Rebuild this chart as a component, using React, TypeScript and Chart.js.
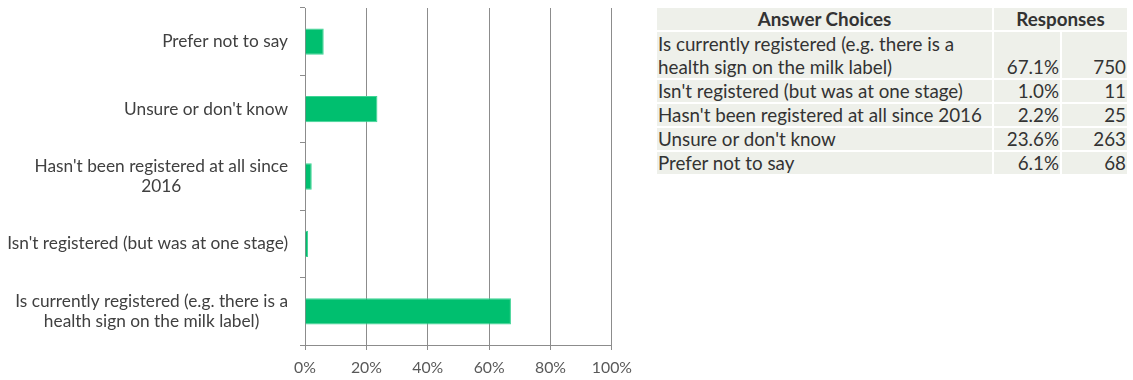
import React, { useEffect, useRef } from "react";
import { Chart, registerables } from "chart.js";

Chart.register(...registerables);

const categories: (string | string[])[] = [
  ["Is currently registered (e.g. there is a", "health sign on the milk label)"],
  "Isn't registered (but was at one stage)",
  ["Hasn't been registered at all since", "2016"],
  "Unsure or don't know",
  "Prefer not to say",
];
const tableChoices: string[][] = [
  ["Is currently registered (e.g. there is a", "health sign on the milk label)"],
  ["Isn't registered (but was at one stage)"],
  ["Hasn't been registered at all since 2016"],
  ["Unsure or don't know"],
  ["Prefer not to say"],
];
const percentValues: number[] = [67.1, 1.0, 2.2, 23.6, 6.1];
const responseCounts: number[] = [750, 11, 25, 263, 68];
const xTicks: number[] = [0, 20, 40, 60, 80, 100];

const FONT = "Lato, 'Open Sans', sans-serif";
const GREEN = "#00BF6F";
const GRID = "#8C8C8C";
const Y_FONT_SIZE = 17.3;
const Y_LINE_H = 20.5;
const Y_TICK_LEN = 5;
const Y_PAD = 12;

const yLabelPlugin = {
  id: "centeredYLabels",
  afterDraw(chart: any) {
    const scale = chart.scales.y;
    const c = chart.ctx;
    c.save();
    c.font = `${Y_FONT_SIZE}px ${FONT}`;
    c.fillStyle = "#404040";
    c.textBaseline = "middle";
    c.textAlign = "center";
    const right = scale.right - Y_TICK_LEN - Y_PAD;
    (chart.data.labels as (string | string[])[]).forEach((lab, i) => {
      const lines = Array.isArray(lab) ? lab : [lab];
      const w = Math.max(...lines.map((l) => c.measureText(l).width));
      const cx = right - w / 2;
      const y0 = scale.getPixelForTick(i) - ((lines.length - 1) * Y_LINE_H) / 2;
      lines.forEach((l, j) => c.fillText(l, cx, y0 + j * Y_LINE_H));
    });
    c.restore();
  },
};

export default function App() {
  const canvasRef = useRef<HTMLCanvasElement | null>(null);

  useEffect(() => {
    document.body.style.margin = "0";
    const ctx = canvasRef.current;
    if (!ctx) return;
    const chart = new Chart(ctx, {
      type: "bar",
      data: {
        labels: categories,
        datasets: [
          {
            data: percentValues,
            backgroundColor: GREEN,
            borderColor: "#3FD495",
            borderWidth: 1,
            categoryPercentage: 1,
            barPercentage: 0.39,
          },
        ],
      },
      options: {
        indexAxis: "y",
        animation: false,
        responsive: false,
        maintainAspectRatio: false,
        layout: { padding: { left: 0, right: 28, top: 8, bottom: 0 } },
        plugins: {
          legend: { display: false },
          tooltip: { enabled: false },
        },
        scales: {
          x: {
            min: 0,
            max: 100,
            afterBuildTicks: (scale: any) => {
              scale.ticks = xTicks.map((v) => ({ value: v }));
            },
            afterFit: (scale: any) => {
              scale.height = 35;
            },
            ticks: {
              color: "#595959",
              font: { family: FONT, size: 15.8 },
              padding: 8,
              maxRotation: 0,
              callback: (v: any) => `${v}%`,
            },
            grid: {
              color: GRID,
              lineWidth: 1,
              drawTicks: true,
              tickLength: 5,
            },
            border: { display: true, color: GRID, width: 1 },
          },
          y: {
            reverse: true,
            afterFit: (scale: any) => {
              scale.width = 305;
            },
            ticks: {
              display: false,
              autoSkip: false,
            },
            grid: {
              display: true,
              drawOnChartArea: false,
              drawTicks: true,
              tickLength: Y_TICK_LEN,
              offset: true,
              color: GRID,
            },
            border: { display: true, color: GRID, width: 1 },
          },
        },
      },
      plugins: [yLabelPlugin],
    });
    return () => chart.destroy();
  }, []);

  const cellBase: React.CSSProperties = {
    background: "#EEF0EA",
    padding: "0 1px",
    lineHeight: "22px",
    verticalAlign: "bottom",
    whiteSpace: "nowrap",
  };

  return (
    <div style={{ position: "relative", width: 1133, height: 380, background: "#fff" }}>
      <canvas
        ref={canvasRef}
        width={640}
        height={380}
        style={{ position: "absolute", left: 0, top: 0, width: 640, height: 380 }}
      />
      <table
        style={{
          position: "absolute",
          left: 655,
          top: 6,
          borderCollapse: "separate",
          borderSpacing: "2px",
          fontFamily: FONT,
          fontSize: 18.8,
          color: "#333333",
        }}
      >
        <tbody>
          <tr>
            <th style={{ ...cellBase, width: 333, textAlign: "center", fontWeight: 700, verticalAlign: "middle" }}>
              Answer Choices
            </th>
            <th
              colSpan={2}
              style={{ ...cellBase, textAlign: "center", fontWeight: 700, verticalAlign: "middle" }}
            >
              Responses
            </th>
          </tr>
          {tableChoices.map((lines, i) => (
            <tr key={i}>
              <td style={{ ...cellBase, width: 333, lineHeight: lines.length > 1 ? "23px" : "22px" }}>
                {lines.map((l, j) => (
                  <div key={j}>{l}</div>
                ))}
              </td>
              <td style={{ ...cellBase, width: 64, textAlign: "right" }}>
                {percentValues[i].toFixed(1)}%
              </td>
              <td style={{ ...cellBase, width: 63, textAlign: "right" }}>{responseCounts[i]}</td>
            </tr>
          ))}
        </tbody>
      </table>
    </div>
  );
}
